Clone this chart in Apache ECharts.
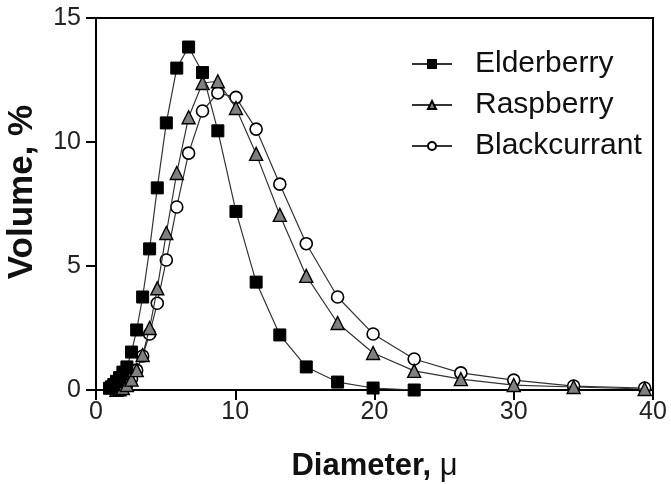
<!DOCTYPE html>
<html>
<head>
<meta charset="utf-8">
<script src="https://cdn.jsdelivr.net/npm/echarts@6/dist/echarts.min.js"></script>
<style>html,body{margin:0;padding:0;background:#fff;}#c{width:671px;height:484px;}</style>
</head>
<body>
<div id="c"></div>
<script>
const diameters = [0.97, 1.12, 1.28, 1.47, 1.69, 1.93, 2.22, 2.55, 2.92, 3.35, 3.85, 4.4, 5.05, 5.8, 6.65, 7.65, 8.75, 10.05, 11.5, 13.2, 15.1, 17.35, 19.9, 22.85, 26.2, 30.0, 34.3, 39.4];
const elderberry = [0.07, 0.13, 0.22, 0.35, 0.5, 0.72, 0.93, 1.53, 2.42, 3.75, 5.69, 8.15, 10.77, 12.98, 13.83, 12.8, 10.45, 7.2, 4.35, 2.22, 0.93, 0.32, 0.08, 0.0, null, null, null, null];
const raspberry = [null, null, null, 0.01, 0.03, 0.08, 0.2, 0.42, 0.8, 1.41, 2.5, 4.1, 6.33, 8.75, 11.0, 12.38, 12.45, 11.37, 9.52, 7.06, 4.6, 2.7, 1.49, 0.77, 0.44, 0.2, 0.12, 0.04];
const blackcurrant = [null, null, null, 0.01, 0.04, 0.1, 0.22, 0.45, 0.8, 1.37, 2.26, 3.5, 5.24, 7.38, 9.55, 11.25, 11.98, 11.8, 10.52, 8.3, 5.9, 3.75, 2.26, 1.25, 0.69, 0.4, 0.16, 0.08];
const xTicks = [0, 10, 20, 30, 40];
const yTicks = [0, 5, 10, 15];

function pairs(vals) {
  const out = [];
  vals.forEach((v, i) => { if (v !== null) out.push([diameters[i], v]); });
  return out;
}

const chart = echarts.init(document.getElementById('c'), null, {renderer: 'canvas'});
const FONT = '"Liberation Sans", Arial, sans-serif';
const lineStyle = {color: '#333', width: 1.2};

chart.setOption({
  animation: false,
  backgroundColor: '#fff',
  grid: {left: 96, right: 18, top: 18, bottom: 94, show: true, borderColor: '#000', borderWidth: 2, containLabel: false, outerBoundsMode: 'none'},
  legend: {
    orient: 'vertical',
    left: 406,
    top: 44,
    itemWidth: 40,
    itemHeight: 10,
    itemGap: 11,
    textStyle: {fontFamily: FONT, fontSize: 30, color: '#111', lineHeight: 30, padding: [0, 0, 0, 18]},
    data: ['Elderberry', 'Raspberry', 'Blackcurrant']
  },
  xAxis: {
    type: 'value', min: xTicks[0], max: xTicks[xTicks.length - 1], interval: 10,
    name: '{b|Diameter,}{r| μ}', nameLocation: 'middle', nameGap: 61,
    nameTextStyle: {rich: {b: {fontFamily: FONT, fontSize: 31, fontWeight: 'bold', color: '#111'}, r: {fontFamily: FONT, fontSize: 31, color: '#111'}}},
    axisLine: {show: true, lineStyle: {color: '#000', width: 2}},
    axisTick: {show: true, inside: false, length: 10, lineStyle: {color: '#000', width: 2}},
    axisLabel: {fontFamily: FONT, fontSize: 25, color: '#222', margin: 10},
    splitLine: {show: false}
  },
  yAxis: {
    type: 'value', min: yTicks[0], max: yTicks[yTicks.length - 1], interval: 5,
    name: 'Volume, %', nameLocation: 'middle', nameGap: 56,
    nameTextStyle: {fontFamily: FONT, fontSize: 35, fontWeight: 'bold', color: '#111', padding: [0, 0, 0, 24]},
    axisLine: {show: true, lineStyle: {color: '#000', width: 2}},
    axisTick: {show: true, inside: false, length: 10, lineStyle: {color: '#000', width: 2}},
    axisLabel: {fontFamily: FONT, fontSize: 25, color: '#222', margin: 15},
    splitLine: {show: false}
  },
  series: [
    {name: 'Blackcurrant', type: 'line', data: pairs(blackcurrant), symbol: 'circle', symbolSize: 12,
      lineStyle: lineStyle, itemStyle: {color: '#fff', borderColor: '#000', borderWidth: 1.6}, z: 2},
    {name: 'Raspberry', type: 'line', data: pairs(raspberry), symbol: 'triangle', symbolSize: 13,
      lineStyle: lineStyle, itemStyle: {color: '#808080', borderColor: '#000', borderWidth: 1.4}, z: 3},
    {name: 'Elderberry', type: 'line', data: pairs(elderberry), symbol: 'rect', symbolSize: 12,
      lineStyle: lineStyle, itemStyle: {color: '#000', borderColor: '#000', borderWidth: 1}, z: 4}
  ]
});
</script>
</body>
</html>
